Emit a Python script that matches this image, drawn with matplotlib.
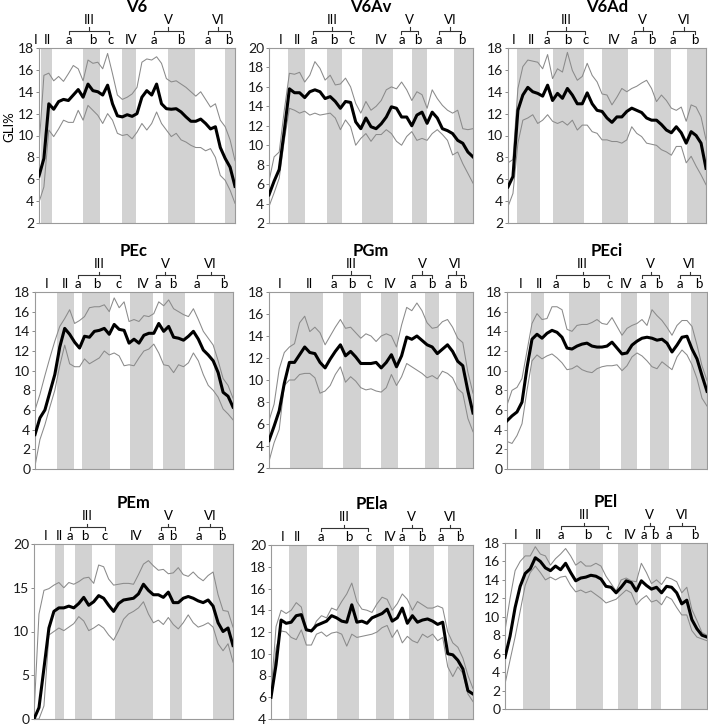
import numpy as np
import matplotlib
matplotlib.use("Agg")
import matplotlib.pyplot as plt
from matplotlib.lines import Line2D

plt.rcParams['font.family'] = ['Lato', 'DejaVu Sans']

# normalised time axis (percent of trial), sampled every 2.5 %
X = np.arange(0, 100.01, 2.5)

# ---------------- data (GLI %) ----------------
v6_mean = [6.3, 7.9, 12.9, 12.4, 13.1, 13.3, 13.2, 13.7, 14.2, 13.5, 14.7, 14.1, 14.0, 13.7, 14.6, 12.9, 11.8, 11.7, 11.9, 11.75, 12.0, 13.5, 14.1, 13.7, 14.7, 12.9, 12.45, 12.4, 12.45, 12.15, 11.7, 11.3, 11.3, 11.5, 11.1, 10.6, 10.8, 8.9, 7.9, 7.1, 5.35]
v6_up = [8.9, 15.5, 15.7, 15.0, 15.4, 14.95, 15.65, 16.4, 16.1, 15.0, 16.9, 16.6, 16.7, 16.1, 17.5, 15.65, 13.7, 13.3, 13.5, 13.8, 14.4, 16.7, 17.0, 16.9, 17.2, 16.6, 15.2, 14.9, 15.0, 14.7, 14.4, 14.0, 13.6, 14.0, 13.3, 12.6, 12.9, 11.4, 10.8, 9.6, 7.7]
v6_lo = [3.9, 5.3, 10.5, 9.9, 10.6, 11.4, 11.2, 11.2, 12.3, 11.4, 12.75, 12.3, 11.85, 11.1, 12.0, 11.4, 10.2, 10.0, 10.1, 9.7, 10.3, 11.1, 10.5, 11.1, 12.15, 11.1, 10.5, 9.9, 10.2, 9.6, 9.4, 9.1, 8.9, 8.9, 8.6, 8.8, 8.0, 6.35, 5.9, 5.0, 3.8]

v6av_mean = [4.9, 6.3, 7.5, 11.5, 15.8, 15.4, 15.4, 14.9, 15.5, 15.7, 15.5, 14.8, 15.0, 14.5, 13.8, 14.5, 14.4, 12.4, 11.7, 12.8, 11.9, 11.7, 12.2, 12.9, 13.95, 13.8, 12.9, 12.9, 12.0, 13.1, 13.4, 12.25, 13.4, 12.8, 11.7, 11.5, 11.2, 10.5, 10.2, 9.3, 8.8]
v6av_up = [6.3, 8.8, 9.3, 13.6, 17.4, 17.3, 17.5, 16.5, 17.2, 18.6, 17.9, 16.7, 17.2, 16.2, 16.3, 16.9, 16.0, 14.3, 13.3, 14.5, 13.6, 14.0, 14.6, 15.7, 16.0, 15.8, 16.5, 15.7, 14.6, 15.5, 15.2, 13.8, 15.7, 14.8, 14.1, 13.6, 13.3, 13.6, 11.7, 11.6, 11.7]
v6av_lo = [3.7, 5.1, 6.6, 10.5, 13.8, 13.6, 13.3, 13.5, 13.1, 13.3, 13.1, 13.2, 13.3, 12.8, 11.6, 12.6, 11.9, 10.0, 10.7, 11.2, 10.4, 11.1, 11.1, 11.6, 11.2, 10.4, 10.0, 10.9, 11.4, 10.5, 10.7, 10.5, 11.2, 11.6, 11.1, 10.5, 9.0, 9.3, 8.1, 7.1, 6.1]

v6ad_mean = [5.3, 6.25, 12.3, 13.7, 14.4, 14.0, 13.85, 13.6, 14.6, 13.2, 13.85, 13.4, 14.3, 13.7, 12.9, 12.9, 13.9, 12.9, 12.3, 12.2, 11.6, 11.2, 11.7, 11.7, 12.2, 12.5, 12.3, 12.1, 11.6, 11.4, 11.4, 11.0, 10.5, 10.25, 10.8, 10.25, 9.3, 10.35, 10.0, 9.3, 7.0]
v6ad_up = [7.5, 7.8, 14.3, 16.3, 16.9, 16.8, 16.7, 16.1, 17.4, 15.2, 16.1, 15.8, 17.6, 15.95, 15.05, 15.4, 16.6, 15.5, 14.9, 13.8, 13.7, 12.8, 13.5, 14.3, 14.0, 14.3, 14.5, 14.8, 15.05, 14.3, 13.1, 13.7, 13.2, 12.5, 12.3, 12.6, 11.3, 12.8, 12.6, 11.7, 9.6]
v6ad_lo = [3.5, 4.7, 9.3, 11.4, 11.6, 11.9, 11.1, 11.4, 11.9, 11.3, 11.1, 11.3, 10.95, 11.4, 10.5, 10.95, 10.95, 10.35, 10.2, 9.6, 9.6, 9.45, 9.45, 9.3, 9.6, 10.8, 10.2, 9.9, 9.3, 9.2, 9.1, 8.7, 8.5, 8.2, 9.0, 9.0, 7.5, 8.1, 7.2, 6.4, 5.5]

pec_mean = [3.5, 5.2, 6.0, 7.8, 9.6, 12.4, 14.3, 13.7, 12.9, 12.3, 13.5, 13.4, 14.0, 14.1, 14.3, 13.7, 14.7, 14.2, 14.1, 12.8, 13.2, 12.8, 13.6, 13.8, 13.8, 14.8, 14.0, 14.5, 13.4, 13.3, 13.1, 13.5, 14.0, 13.2, 12.1, 11.6, 11.0, 9.8, 7.8, 7.4, 6.3]
pec_up = [6.0, 7.6, 9.5, 11.3, 13.0, 14.5, 15.3, 16.2, 14.8, 15.1, 15.5, 16.4, 16.5, 16.5, 16.7, 16.0, 17.4, 16.4, 17.0, 15.0, 15.2, 15.0, 15.6, 15.5, 15.8, 17.0, 16.6, 17.2, 16.3, 16.0, 15.7, 15.5, 16.3, 15.2, 14.0, 13.3, 12.6, 11.0, 9.2, 8.5, 7.2]
pec_lo = [0.3, 3.0, 4.5, 6.3, 8.0, 10.5, 12.6, 10.7, 10.4, 10.4, 11.2, 10.7, 11.0, 11.3, 12.0, 11.6, 11.8, 11.5, 10.5, 10.6, 10.5, 11.3, 12.0, 12.2, 12.7, 11.8, 10.6, 10.5, 9.8, 10.6, 10.4, 10.8, 11.8, 11.0, 9.6, 8.5, 8.0, 7.3, 6.1, 5.6, 5.0]

pgm_mean = [4.5, 5.8, 7.2, 9.7, 11.6, 11.6, 12.3, 13.0, 12.5, 12.4, 11.6, 11.1, 11.9, 12.6, 13.2, 12.2, 12.6, 12.1, 11.5, 11.5, 11.5, 11.6, 11.1, 11.6, 12.3, 11.2, 12.2, 13.9, 13.7, 14.0, 13.6, 13.2, 13.0, 12.4, 12.8, 13.2, 12.6, 11.7, 11.3, 9.0, 7.0]
pgm_up = [6.3, 7.8, 11.0, 12.5, 13.0, 13.3, 15.2, 15.8, 14.4, 14.8, 14.3, 13.2, 14.0, 14.8, 15.5, 14.7, 14.8, 14.3, 13.8, 14.2, 14.0, 13.5, 14.0, 14.2, 14.0, 13.0, 15.0, 16.6, 16.3, 17.0, 16.3, 15.2, 14.7, 14.8, 15.3, 15.5, 14.8, 13.8, 13.4, 10.7, 8.8]
pgm_lo = [2.6, 4.3, 5.5, 9.5, 10.0, 10.0, 10.5, 10.6, 10.6, 10.2, 8.8, 9.0, 9.5, 10.5, 11.2, 9.8, 10.3, 9.9, 9.3, 9.1, 9.2, 9.0, 8.9, 9.3, 10.5, 9.5, 10.3, 11.5, 11.2, 10.9, 10.6, 10.2, 10.4, 10.1, 10.8, 10.6, 10.2, 9.2, 8.8, 6.5, 5.3]

peci_mean = [4.9, 5.4, 5.8, 6.8, 10.3, 13.2, 13.7, 13.3, 13.8, 14.1, 13.9, 13.4, 12.3, 12.2, 12.5, 12.7, 12.8, 12.5, 12.4, 12.4, 12.5, 12.9, 12.3, 11.7, 11.8, 12.6, 13.0, 13.3, 13.4, 13.3, 13.1, 13.2, 12.8, 11.9, 12.6, 13.4, 13.5, 12.2, 11.2, 9.5, 7.9]
peci_up = [6.5, 8.0, 8.3, 9.2, 12.0, 14.8, 15.8, 15.2, 15.3, 16.5, 16.5, 16.2, 14.2, 14.0, 14.6, 14.7, 14.7, 14.9, 15.2, 14.8, 14.7, 15.4, 14.5, 13.6, 14.3, 14.6, 14.8, 15.2, 14.6, 16.2, 15.6, 15.1, 14.4, 13.6, 14.6, 15.1, 15.1, 14.5, 12.6, 10.5, 9.0]
peci_lo = [2.8, 2.6, 3.4, 4.6, 8.0, 11.0, 11.6, 11.2, 11.5, 11.7, 11.3, 10.8, 10.1, 10.2, 10.5, 10.1, 9.9, 9.8, 10.2, 10.4, 10.5, 10.5, 10.6, 10.0, 10.5, 11.4, 11.8, 11.5, 11.0, 10.4, 10.2, 10.9, 10.5, 10.1, 11.4, 12.1, 11.6, 10.6, 9.2, 7.2, 6.4]

pem_mean = [0.0, 1.3, 5.8, 10.4, 12.3, 12.7, 12.7, 12.9, 12.7, 13.2, 13.9, 13.0, 13.4, 14.1, 13.8, 13.0, 12.3, 13.2, 13.6, 13.7, 13.8, 14.3, 15.4, 14.7, 14.2, 14.2, 13.9, 14.5, 13.3, 13.3, 13.8, 14.0, 13.8, 13.5, 13.3, 13.6, 12.9, 11.0, 10.0, 10.4, 8.4]
pem_up = [0.5, 12.0, 14.7, 14.9, 15.3, 15.6, 15.0, 15.6, 15.4, 15.7, 16.1, 16.2, 15.5, 17.6, 17.4, 16.0, 15.3, 15.4, 15.5, 15.5, 15.4, 16.5, 17.7, 18.1, 17.5, 17.0, 17.1, 16.6, 16.7, 17.3, 16.5, 16.3, 16.8, 16.2, 15.8, 16.4, 16.8, 14.2, 12.4, 12.3, 10.5]
pem_lo = [0.0, 0.0, 1.5, 9.6, 10.0, 10.4, 10.1, 10.5, 10.9, 11.7, 11.2, 10.1, 10.4, 10.8, 10.4, 9.6, 9.0, 10.1, 11.4, 12.0, 12.3, 12.7, 13.4, 12.0, 11.0, 11.3, 10.8, 11.6, 10.8, 10.3, 11.0, 11.9, 11.0, 10.5, 10.7, 11.0, 10.5, 8.6, 7.8, 8.6, 6.5]

pela_mean = [6.0, 9.0, 13.1, 12.8, 12.9, 13.5, 13.6, 12.2, 12.1, 12.6, 12.8, 13.0, 13.5, 13.3, 13.0, 12.9, 14.5, 12.9, 13.0, 12.8, 13.3, 13.5, 13.7, 14.1, 13.0, 13.3, 14.2, 12.8, 13.5, 12.9, 13.1, 13.2, 13.0, 12.7, 12.9, 10.0, 9.9, 9.4, 8.6, 6.6, 6.3]
pela_up = [6.3, 12.5, 14.0, 13.7, 14.0, 14.7, 14.3, 12.3, 12.0, 13.0, 13.5, 13.3, 14.2, 14.0, 14.8, 15.5, 16.5, 14.8, 14.1, 14.0, 13.8, 14.6, 15.2, 15.0, 14.0, 14.6, 15.5, 15.0, 14.0, 14.8, 14.5, 14.2, 14.2, 14.4, 14.2, 12.0, 11.0, 10.6, 9.6, 8.0, 6.8]
pela_lo = [5.6, 10.5, 12.1, 12.0, 11.5, 11.3, 12.2, 10.8, 10.8, 11.8, 12.0, 11.6, 11.9, 12.0, 11.8, 10.7, 11.8, 11.5, 11.6, 11.7, 11.8, 12.0, 12.4, 12.6, 11.5, 12.2, 11.0, 11.6, 11.2, 11.0, 11.8, 11.5, 11.8, 11.2, 11.5, 8.8, 7.9, 8.8, 8.2, 6.3, 5.6]

pel_mean = [5.6, 7.9, 11.0, 13.3, 14.7, 15.2, 16.4, 16.0, 15.3, 15.0, 15.5, 15.1, 15.8, 14.8, 13.9, 14.2, 14.3, 14.5, 14.4, 14.1, 13.3, 13.2, 12.6, 13.2, 13.9, 13.7, 12.8, 13.9, 13.4, 13.0, 13.2, 12.6, 13.3, 13.2, 12.6, 11.4, 11.8, 9.7, 8.7, 8.0, 7.8]
pel_up = [8.5, 12.0, 15.0, 16.0, 16.6, 16.6, 17.6, 16.8, 16.6, 15.6, 16.3, 16.8, 17.4, 16.6, 15.6, 16.0, 15.5, 15.5, 15.8, 15.5, 14.4, 13.6, 12.8, 14.0, 14.2, 13.9, 13.8, 15.8, 14.8, 13.6, 14.0, 13.5, 14.3, 14.1, 13.8, 12.6, 13.2, 10.8, 9.6, 8.3, 8.0]
pel_lo = [2.7, 5.3, 7.8, 10.6, 13.4, 14.8, 15.5, 14.8, 14.0, 14.3, 14.0, 14.3, 14.4, 13.4, 12.7, 12.9, 12.6, 12.8, 12.4, 12.0, 11.5, 11.7, 11.9, 12.4, 12.9, 12.6, 11.3, 11.9, 12.3, 11.6, 11.8, 11.3, 12.2, 11.9, 11.0, 10.2, 10.2, 8.5, 7.8, 7.6, 7.4]

# phase boundaries (gray bands) per area, in % of trial
v6_bands = [(0.85, 6.8), (22.5, 31.3), (42.4, 49.4), (66.0, 79.6), (95.0, 100)]
v6av_bands = [(9.3, 17.7), (28.3, 36.0), (45.5, 60.6), (69.9, 77.4), (90.5, 100)]
v6ad_bands = [(4.7, 16.0), (22.8, 38.3), (47.7, 60.7), (73.7, 82.3), (90.2, 100)]
pec_bands = [(11.3, 19.7), (23.7, 37.8), (47.9, 59.7), (64.7, 75.6), (90.3, 100)]
pgm_bands = [(10.1, 26.5), (36.2, 45.0), (54.8, 63.3), (76.6, 83.5), (91.7, 100)]
peci_bands = [(12.2, 18.3), (31.2, 46.7), (57.2, 65.0), (71.7, 81.2), (92.2, 100)]
pem_bands = [(10.4, 15.1), (20.6, 29.0), (40.5, 59.8), (68.2, 74.4), (89.9, 100)]
pela_bands = [(9.1, 17.7), (32.7, 43.4), (52.1, 60.7), (68.5, 80.5), (87.8, 100)]
pel_bands = [(9.1, 22.3), (35.2, 48.3), (55.7, 65.8), (72.4, 77.2), (87.3, 100)]

# phase labels
sub_text = ['I', 'II', 'a', 'b', 'c', 'IV', 'a', 'b', 'a', 'b']
v6_sub = [-1.7, 4.1, 15.2, 27.6, 36.5, 46.8, 58.6, 72.4, 86.4, 96.9]
v6av_sub = [5.7, 13.9, 22.1, 31.6, 40.6, 54.8, 65.0, 72.8, 83.5, 94.4]
v6ad_sub = [3.0, 11.8, 19.7, 30.0, 39.1, 53.5, 63.7, 72.5, 83.1, 94.6]
pec_sub = [5.9, 15.5, 21.5, 31.1, 42.4, 54.6, 62.2, 69.7, 81.8, 95.3]
pgm_sub = [5.4, 19.6, 31.6, 40.4, 49.4, 59.2, 70.4, 79.9, 87.6, 94.9]
peci_sub = [6.7, 16.2, 24.7, 39.2, 51.2, 59.7, 67.8, 75.8, 86.7, 95.8]
pem_sub = [5.7, 12.9, 17.9, 25.3, 35.3, 51.4, 63.8, 69.8, 82.7, 94.6]
pela_sub = [5.8, 13.2, 24.8, 38.3, 48.2, 59.1, 64.7, 74.6, 84.2, 93.7]
pel_sub = [5.0, 16.5, 27.6, 40.8, 51.2, 62.0, 68.9, 74.0, 81.3, 93.9]

group_text = ['III', 'V', 'VI']
v6_grp = [(15.2, 35.8, 25.6), (58.6, 73.3, 65.9), (86.0, 97.4, 91.5)]
v6av_grp = [(21.8, 40.1, 31.1), (64.6, 73.2, 68.9), (83.5, 94.3, 88.9)]
v6ad_grp = [(19.7, 38.8, 29.2), (63.7, 72.5, 68.1), (83.1, 94.6, 88.9)]
pec_grp = [(21.5, 42.9, 32.3), (61.3, 70.6, 65.9), (81.8, 95.3, 88.7)]
pgm_grp = [(31.1, 49.4, 40.3), (69.9, 79.9, 75.0), (87.6, 95.4, 91.5)]
peci_grp = [(24.7, 51.2, 37.8), (67.5, 76.2, 71.8), (86.7, 96.3, 91.3)]
pem_grp = [(17.9, 35.7, 26.8), (63.8, 71.0, 67.5), (82.7, 94.6, 88.6)]
pela_grp = [(24.8, 47.9, 36.0), (64.7, 74.6, 69.6), (83.8, 93.6, 88.8)]
pel_grp = [(27.6, 51.2, 39.3), (68.9, 74.0, 71.6), (81.3, 94.2, 87.8)]

titles = ['V6', 'V6Av', 'V6Ad', 'PEc', 'PGm', 'PEci', 'PEm', 'PEla', 'PEl']

# ---------------- layout ----------------
W, H = 708, 726
fig = plt.figure(figsize=(W / 100, H / 100), dpi=100)

panels = [
    (v6_mean, v6_up, v6_lo, v6_bands, v6_sub, v6_grp, (2, 18, 2), (39, 235, 48, 223)),
    (v6av_mean, v6av_up, v6av_lo, v6av_bands, v6av_sub, v6av_grp, (2, 20, 2), (269, 473, 48, 223)),
    (v6ad_mean, v6ad_up, v6ad_lo, v6ad_bands, v6ad_sub, v6ad_grp, (2, 18, 2), (508, 706, 48, 223)),
    (pec_mean, pec_up, pec_lo, pec_bands, pec_sub, pec_grp, (0, 18, 2), (35, 233, 292, 469)),
    (pgm_mean, pgm_up, pgm_lo, pgm_bands, pgm_sub, pgm_grp, (2, 18, 2), (269, 473, 292, 468)),
    (peci_mean, peci_up, peci_lo, peci_bands, peci_sub, peci_grp, (0, 18, 2), (507, 707, 292, 469)),
    (pem_mean, pem_up, pem_lo, pem_bands, pem_sub, pem_grp, (0, 20, 5), (34, 233, 544, 719)),
    (pela_mean, pela_up, pela_lo, pela_bands, pela_sub, pela_grp, (4, 20, 2), (271, 473, 545, 719)),
    (pel_mean, pel_up, pel_lo, pel_bands, pel_sub, pel_grp, (0, 18, 2), (505, 707, 543, 709)),
]

band_col = '#d2d2d2'
fs_tick = 10
fs_lab = 9.5

for title, (mean, up, lo, bands, subs, grps, (y0, y1, ys), (l, r, t, b)) in zip(titles, panels):
    ax = fig.add_axes([l / W, 1 - b / H, (r - l) / W, (b - t) / H])
    hpx = b - t
    for (b0, b1) in bands:
        ax.axvspan(b0, b1, color=band_col, lw=0, zorder=0)
    ax.plot(X, up, color='#8a8a8a', lw=0.75, zorder=2)
    ax.plot(X, lo, color='#8a8a8a', lw=0.75, zorder=2)
    ax.plot(X, mean, color='black', lw=2.2, zorder=3, solid_joinstyle='round')
    ax.set_xlim(0, 100)
    ax.set_ylim(y0, y1)
    ax.set_yticks(np.arange(y0, y1 + 0.1, ys))
    ax.set_xticks([])
    ax.tick_params(axis='y', length=2.5, width=0.6, color='#777777', pad=1.0,
                   labelsize=fs_tick, labelcolor='#1a1a1a')
    for s in ax.spines.values():
        s.set_color('#9a9a9a')
        s.set_linewidth(0.8)

    def yf(px):
        return 1 + px / hpx

    tr = ax.get_xaxis_transform()
    for txt, xs in zip(sub_text, subs):
        ax.text(xs, yf(4), txt, ha='center', va='baseline', fontsize=fs_lab,
                transform=tr, clip_on=False)
    for txt, (g0, g1, gc) in zip(group_text, grps):
        ax.add_line(Line2D([g0, g0, g1, g1], [yf(14), yf(17), yf(17), yf(14)],
                           transform=tr, color='#333333', lw=0.8, clip_on=False))
        ax.add_line(Line2D([gc, gc], [yf(17), yf(20.5)], transform=tr,
                           color='#333333', lw=0.8, clip_on=False))
        ax.text(gc, yf(24), txt, ha='center', va='baseline', fontsize=fs_lab,
                transform=tr, clip_on=False)
    ax.text(50, yf(36), title, ha='center', va='baseline', fontsize=12,
            fontweight='bold', transform=tr, clip_on=False)

fig.text(9 / W, 1 - 127 / H, 'GLI%', rotation=90, ha='center', va='center', fontsize=fs_lab)

fig.savefig('out.png', dpi=100)
